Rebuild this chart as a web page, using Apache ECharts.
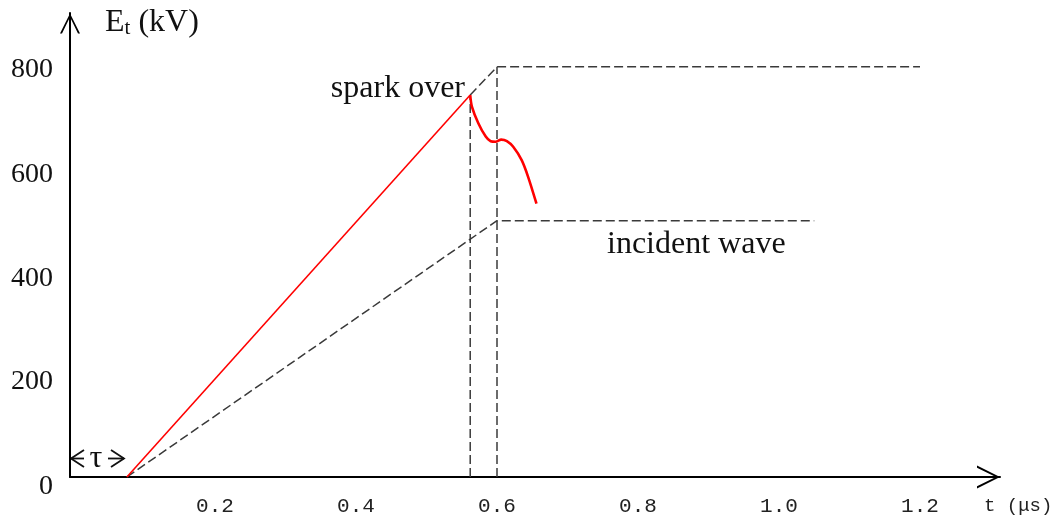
<!DOCTYPE html>
<html>
<head>
<meta charset="utf-8">
<style>
  html, body { margin: 0; padding: 0; background: #ffffff; }
  #chart { width: 1051px; height: 522px; }
</style>
<script src="https://cdn.jsdelivr.net/npm/echarts@6/dist/echarts.min.js"></script>
</head>
<body>
<div id="chart"></div>
<script>
// ---- data (t in µs, E in kV) ----
const xTickValues = [0.2, 0.4, 0.6, 0.8, 1.0, 1.2];
const xTickLabels = ['0.2', '0.4', '0.6', '0.8', '1.0', '1.2'];
const yTickValues = [0, 200, 400, 600, 800];
const yTickLabels = ['0', '200', '400', '600', '800'];

// measured voltage rising to spark over then collapsing
const sparkRise = [[0.075, 0], [0.562, 745]];
const sparkCollapse = [
  [0.562, 745], [0.5645, 722], [0.5735, 690], [0.584, 664], [0.591, 655],
  [0.598, 654], [0.606, 658], [0.614, 655], [0.623, 644], [0.635, 618],
  [0.644, 586], [0.656, 533]
];
// incident wave
const incidentWave = [[0.075, 0], [0.6, 500], [1.05, 500]];
// prospective (extended) wave
const prospectiveWave = [[0.562, 745], [0.6, 800], [1.2, 800]];
// vertical guides
const guideSpark = [[0.562, 0], [0.562, 745]];
const guideCrest = [[0.6, 0], [0.6, 800]];

const chart = echarts.init(document.getElementById('chart'), null, { renderer: 'canvas' });

const dashStyle = { color: '#3a3a3a', width: 1.5, type: [9, 4] };
const chevron = 'path://M10,0 L20,20 L18,20 L10,3.6 L2,20 L0,20 Z';

function dashed(data) {
  return {
    type: 'line', data: data, symbol: 'none', silent: true,
    lineStyle: dashStyle, z: 2
  };
}

// per-label vertical nudges (label box padding-top) to match the reference
const yLabelPad = [20, 14, 14, 10, 6];
const yRich = {};
yTickValues.forEach(function (v, i) {
  yRich['y' + i] = {
    fontFamily: 'Liberation Serif', fontSize: 28, color: '#111',
    padding: [yLabelPad[i], 0, 0, 0]
  };
});

const serif = 'Liberation Serif';
const markStroke = { stroke: '#111', lineWidth: 1.8, fill: null };

chart.setOption({
  animation: false,
  backgroundColor: '#ffffff',
  grid: { left: 70, right: 51, top: 13, bottom: 45, containLabel: false, outerBoundsMode: 'none' },
  xAxis: {
    type: 'value',
    min: -0.0057,
    max: 1.3135,
    splitLine: { show: false },
    axisTick: { show: false },
    axisLine: {
      onZero: false,
      lineStyle: { color: '#000', width: 2 },
      symbol: ['none', chevron],
      symbolSize: [24, 23],
      symbolOffset: [0, -11.5]
    },
    axisLabel: {
      customValues: xTickValues,
      formatter: function (v) {
        const i = xTickValues.findIndex(function (t) { return Math.abs(t - v) < 1e-6; });
        return i >= 0 ? xTickLabels[i] : '';
      },
      fontFamily: 'Liberation Mono',
      fontSize: 21,
      color: '#222',
      margin: 19
    }
  },
  yAxis: {
    type: 'value',
    min: 0,
    max: 905,
    splitLine: { show: false },
    axisTick: { show: false },
    axisLine: {
      onZero: false,
      lineStyle: { color: '#000', width: 2 },
      symbol: ['none', chevron],
      symbolSize: [20, 21],
      symbolOffset: [0, -10.5]
    },
    axisLabel: {
      customValues: yTickValues,
      formatter: function (v) {
        const i = yTickValues.findIndex(function (t) { return Math.abs(t - v) < 1e-6; });
        return i >= 0 ? '{y' + i + '|' + yTickLabels[i] + '}' : '';
      },
      rich: yRich,
      fontFamily: serif,
      fontSize: 28,
      color: '#111',
      margin: 17
    }
  },
  series: [
    dashed(incidentWave),
    dashed(prospectiveWave),
    dashed(guideSpark),
    dashed(guideCrest),
    {
      type: 'line', data: sparkRise, symbol: 'none', silent: true, z: 3,
      lineStyle: { color: '#ff0000', width: 1.6 }
    },
    {
      type: 'line', data: sparkCollapse, symbol: 'none', silent: true, z: 3,
      smooth: 0.3,
      lineStyle: { color: '#ff0000', width: 2.6 }
    }
  ],
  graphic: [
    {
      type: 'text', left: 105, top: 7,
      style: {
        text: '{a|E}{b|t}{a| (kV)}',
        rich: {
          a: { fontFamily: serif, fontSize: 32, fill: '#111' },
          b: { fontFamily: serif, fontSize: 21, fill: '#111', padding: [10, 0, 0, 0] }
        }
      }
    },
    {
      type: 'text', x: 465, y: 89,
      style: { text: 'spark over', fontFamily: serif, fontSize: 32, fill: '#111', align: 'right', verticalAlign: 'middle' }
    },
    {
      type: 'text', x: 607, y: 245,
      style: { text: 'incident wave', fontFamily: serif, fontSize: 32, fill: '#111', align: 'left', verticalAlign: 'middle' }
    },
    // delay marker  <-τ->  (open arrowheads)
    { type: 'polyline', shape: { points: [[84, 450], [71, 458.5], [84, 467]] }, style: markStroke, silent: true },
    { type: 'polyline', shape: { points: [[71, 458.5], [84, 458.5]] }, style: markStroke, silent: true },
    {
      type: 'text', x: 96, y: 459,
      style: { text: 'τ', fontFamily: serif, fontSize: 32, fill: '#111', align: 'center', verticalAlign: 'middle' }
    },
    { type: 'polyline', shape: { points: [[111, 450], [124, 458.5], [111, 467]] }, style: markStroke, silent: true },
    { type: 'polyline', shape: { points: [[108, 458.5], [124, 458.5]] }, style: markStroke, silent: true },
    {
      type: 'text', x: 984, y: 506,
      style: { text: 't (μs)', fontFamily: 'Liberation Mono', fontSize: 19, fill: '#222', align: 'left', verticalAlign: 'middle' }
    }
  ]
});
</script>
</body>
</html>
